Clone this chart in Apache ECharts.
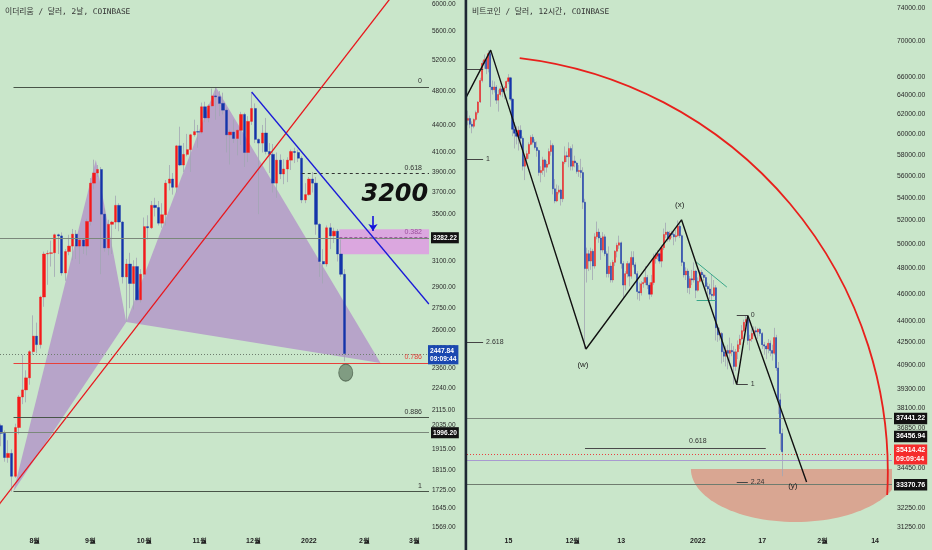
<!DOCTYPE html>
<html><head><meta charset="utf-8">
<script src="https://cdn.jsdelivr.net/npm/echarts@6.0.0/dist/echarts.min.js"></script>
<style>html,body{margin:0;padding:0;background:#c9e6ca}#c{width:932px;height:550px}</style>
</head><body><div id="c"></div>
<script>
// ================= DATA =================
// ---- left: ETH / USD, 2-day bars (open, close, low, high)
const ethTitle = '이더리움 / 달러, 2날, COINBASE';
const ethStart = '2021-07-13';
const ethStepHours = 48;
const ethOHLC = [
[2035,1995,1930,2045],[1995,1875,1855,2010],[1875,1895,1850,1960],[1895,1787,1718,1915],[1787,2025,1780,2045],
[2025,2190,1990,2200],[2190,2230,2150,2440],[2230,2300,2160,2345],[2300,2460,2260,2470],[2460,2560,2440,2700],
[2560,2505,2450,2650],[2505,2830,2480,2840],[2830,3160,2760,3180],[3160,3165,2920,3190],[3165,3170,3060,3270],
[3170,3320,2980,3330],[3320,3310,3160,3330],[3310,3010,2990,3340],[3010,3180,2950,3200],[3180,3225,3150,3320],
[3225,3325,3110,3370],[3325,3225,3120,3360],[3225,3275,3080,3290],[3275,3225,3160,3290],[3225,3435,3150,3460],
[3435,3790,3400,3840],[3790,3890,3730,4025],[3890,3925,3850,3970],[3925,3500,3000,3950],[3500,3210,3180,3550],
[3210,3410,3150,3450],[3410,3430,3160,3440],[3430,3580,3370,3670],[3580,3430,3350,3600],[3430,2980,2930,3440],
[2980,3080,2655,3120],[3080,2930,2750,3170],[2930,3060,2740,3110],[3060,2810,2800,3130],[2810,3000,2790,3040],
[3000,3390,2980,3470],[3390,3380,3280,3490],[3380,3580,3370,3620],[3580,3560,3480,3650],[3560,3420,3400,3620],
[3420,3495,3380,3600],[3495,3790,3400,3820],[3790,3830,3720,3970],[3830,3750,3680,3890],[3750,4170,3700,4180],
[4170,3970,3960,4380],[3970,4080,3900,4200],[4080,4130,4060,4300],[4130,4290,3900,4300],[4290,4325,4270,4460],
[4325,4320,4150,4400],[4320,4610,4300,4660],[4610,4480,4430,4670],[4480,4620,4430,4640],[4620,4740,4610,4830],
[4740,4730,4460,4850],[4730,4650,4500,4800],[4650,4570,4520,4780],[4570,4290,4100,4600],[4290,4320,3975,4350],
[4320,4250,4200,4460],[4250,4340,4070,4350],[4340,4520,4180,4550],[4520,4100,3950,4540],[4100,4440,4000,4500],
[4440,4590,4400,4780],[4590,4240,4200,4650],[4240,4200,3500,4250],[4200,4310,4100,4400],[4310,4110,4080,4480],
[4110,4080,3890,4200],[4080,3790,3700,4190],[3790,4020,3650,4100],[4020,3880,3830,4080],[3880,3930,3780,4030],
[3930,4020,3800,4050],[4020,4110,3920,4130],[4110,4100,3990,4150],[4100,4040,4000,4130],[4040,3630,3600,4060],
[3630,3680,3600,3790],[3680,3830,3670,3850],[3830,3790,3700,3900],[3790,3410,3320,3850],[3410,3100,2980,3420],
[3100,3080,2930,3200],[3080,3380,3060,3400],[3380,3310,3200,3420],[3310,3350,3250,3380],[3350,3160,3100,3370],
[3160,3000,2980,3280],[3000,2447.84,2400,3040]
];
const ethPriceTicks = [6000,5600,5200,4800,4400,4100,3900,3700,3500,3300,3100,2900,2750,2600,2480,2360,2240,2115,2035,1915,1815,1725,1645,1569];
const ethDateTicks = ['2021-08-01','2021-09-01','2021-10-01','2021-11-01','2021-12-01','2022-01-01','2022-02-01','2022-03-01'];
const ethDateLabels = ['8월','9월','10월','11월','12월','2022','2월','3월'];
const ethXRange = ['2021-07-12T11:00:00Z','2022-03-09T02:00:00Z'];
const ethYRange = [1549, 6062];
const ethFibStart = '2021-07-20';
const ethFibLevels = [['0',4850],['0.786',2390],['0.886',2077],['1',1720]];
const ethFib618 = ['2021-12-28', 3884];
const ethBox382 = ['2022-01-18', 3368, 3159, 3300];
const ethPattern = [
  [['2021-07-20',1720],['2021-09-04',4025],['2021-09-21',2655]],
  [['2021-09-21',2655],['2021-11-10',4850],['2022-02-10',2390]]
];
const ethRedTrend = [['2021-07-01',1558],['2022-02-25',6442]];
const ethBlueTrend = [['2021-11-30',4788],['2022-03-09',2780]];
const ethPriceLines = [3282.22, 1996.20];
const ethLast = [2447.84, '09:09:44'];
const ethCircle = ['2022-01-21T14:00:00Z', 2331];
const ethNote = ['2022-02-18', 3676, '3200'];
const ethArrow = [['2022-02-05T19:00:00Z', 3484], ['2022-02-05T19:00:00Z', 3352]];

// ---- right: BTC / USD, 12-hour bars, thousand USD (open, close, low, high)
const btcTitle = '비트코인 / 달러, 12시간, COINBASE';
const btcStart = '2021-11-05';
const btcStepHours = 12;
const btcOHLCk = [
[61.4,61.6,60.9,62.4],[61.6,61.0,60.6,61.9],[61.0,60.8,60.1,61.3],[60.8,61.5,60.6,61.6],[61.5,62.2,61.3,62.4],[62.2,63.3,62.0,63.4],
[63.3,65.6,63.2,65.9],[65.6,67.5,65.4,67.8],[67.5,67.9,66.9,68.5],[67.9,66.9,66.3,68.2],[66.9,68.6,66.5,69.0],[68.6,64.9,62.8,68.9],
[64.9,64.6,64.1,65.6],[64.6,64.9,64.3,65.5],[64.9,63.5,63.1,65.1],[63.5,64.1,62.3,64.6],[64.1,64.7,63.9,65.0],[64.7,64.4,63.8,64.9],
[64.4,64.8,63.6,65.0],[64.8,65.5,64.5,65.6],[65.5,65.9,65.2,66.3],[65.9,63.6,63.4,66.0],[63.6,60.5,59.8,63.7],[60.5,60.1,58.6,61.2],
[60.1,59.8,59.0,60.8],[59.8,60.4,58.4,60.8],[60.4,59.6,59.3,60.9],[59.6,56.9,56.5,59.8],[56.9,57.6,55.6,57.9],[57.6,58.1,57.0,58.4],
[58.1,59.0,57.6,59.2],[59.0,59.7,58.9,59.9],[59.7,59.2,59.0,60.0],[59.2,58.7,58.5,59.5],[58.7,58.4,57.8,59.3],[58.4,56.3,56.0,58.5],
[56.3,56.5,55.4,56.9],[56.5,57.5,56.1,57.8],[57.5,56.8,55.9,57.6],[56.8,57.1,56.3,57.4],[57.1,58.3,57.0,58.6],[58.3,58.9,57.9,59.4],
[58.9,54.8,54.3,59.1],[54.8,53.7,53.5,55.7],[53.7,54.5,53.6,55.2],[54.5,54.7,54.3,55.1],[54.7,53.9,53.3,54.8],[53.9,57.3,53.6,57.4],
[57.3,57.9,57.1,58.8],[57.9,57.8,57.3,58.3],[57.8,58.6,56.8,59.2],[58.6,56.9,56.5,58.8],[56.9,57.4,56.5,59.0],[57.4,57.2,56.8,57.9],
[57.2,56.4,56.2,57.3],[56.4,56.5,55.9,57.0],[56.5,56.3,55.8,57.6],[56.3,53.6,53.0,56.8],[53.6,48.0,42.0,53.9],[48.0,49.2,46.9,49.7],
[49.2,48.6,47.8,49.5],[48.6,49.4,47.9,49.7],[49.4,48.2,47.1,49.6],[48.2,50.6,48.0,50.9],[50.6,51.0,50.4,51.9],[51.0,50.5,50.1,51.3],
[50.5,49.5,48.7,50.7],[49.5,50.6,49.3,51.0],[50.6,49.2,49.0,50.8],[49.2,47.6,47.3,49.4],[47.6,48.2,47.3,49.8],[48.2,47.1,46.9,48.5],
[47.1,48.5,46.9,48.7],[48.5,49.4,48.2,49.5],[49.4,49.9,48.9,50.1],[49.9,50.1,49.6,50.7],[50.1,48.4,48.0,50.2],[48.4,46.7,45.7,48.6],
[46.7,47.6,46.3,47.8],[47.6,48.4,47.3,48.6],[48.4,47.4,46.6,48.5],[47.4,48.9,47.2,49.4],[48.9,48.3,48.1,49.4],[48.3,47.6,47.5,48.5],
[47.6,46.2,45.6,47.8],[46.2,46.1,45.5,46.9],[46.1,46.8,45.9,47.0],[46.8,46.9,46.5,47.3],[46.9,47.3,46.7,48.2],[47.3,46.7,46.4,47.5],
[46.7,46.0,45.6,46.9],[46.0,46.9,45.8,47.5],[46.9,48.8,46.7,49.2],[48.8,49.0,48.4,49.3],[49.0,49.2,48.7,49.5],[49.2,48.6,48.4,49.3],
[48.6,49.7,48.1,49.9],[49.7,50.8,49.5,51.3],[50.8,51.0,50.5,51.8],[51.0,50.4,50.2,51.1],[50.4,50.9,50.2,51.1],[50.9,50.8,50.5,51.1],
[50.8,50.6,49.9,51.0],[50.6,50.7,50.2,51.2],[50.7,51.5,50.6,52.0],[51.5,50.7,50.5,51.7],[50.7,48.5,48.2,50.8],[48.5,47.5,47.3,48.6],
[47.5,47.8,47.1,48.1],[47.8,46.5,46.1,48.0],[46.5,47.2,46.0,47.4],[47.2,47.1,46.7,47.9],[47.1,47.8,46.9,48.5],[47.8,46.3,45.7,47.9],
[46.3,47.0,46.2,47.3],[47.0,47.7,46.9,47.9],[47.7,47.5,47.0,47.9],[47.5,47.3,47.0,47.6],[47.3,46.6,46.2,47.5],[46.6,46.4,45.7,46.9],
[46.4,46.0,45.6,46.8],[46.0,45.9,45.5,47.5],[45.9,46.5,45.8,47.1],[46.5,43.5,42.6,46.7],[43.5,43.0,42.5,43.8],[43.0,43.1,42.6,43.5],
[43.1,41.8,41.0,43.2],[41.8,41.5,41.1,42.3],[41.5,41.9,40.8,42.2],[41.9,41.7,40.6,42.3],[41.7,41.9,41.2,42.8],[41.9,41.8,41.5,42.4],
[41.8,40.8,39.6,42.2],[40.8,41.8,40.5,42.0],[41.8,42.3,41.3,42.6],[42.3,42.7,42.0,43.0],[42.7,43.3,42.6,43.7],[43.3,43.9,43.2,44.1],
[43.9,44.1,43.6,44.4],[44.1,42.6,42.3,44.2],[42.6,42.7,41.9,43.0],[42.7,43.1,42.5,43.4],[43.1,43.3,42.9,43.6],[43.3,43.2,42.8,43.6],
[43.2,43.4,42.7,43.5],[43.4,43.1,42.9,43.5],[43.1,42.3,42.0,43.2],[42.3,42.2,41.6,42.5],[42.2,42.0,41.3,42.3],[42.0,42.4,41.7,42.7],
[42.4,41.9,41.5,42.6],[41.9,41.7,41.2,42.3],[41.7,42.8,41.6,43.5],[42.8,40.7,40.5,43.0],[40.7,38.6,37.7,41.1],[38.6,36.5,35.5,39.0],
[36.5,35.41442,34.0,36.8]
];
const btcPriceTicks = [74000,70000,66000,64000,62000,60000,58000,56000,54000,52000,50000,48000,46000,44000,42500,40900,39300,38100,36850,35650,34450,33350,32250,31250];
const btcDateTicks = ['2021-11-15','2021-12-01','2021-12-13','2022-01-01','2022-01-17','2022-02-01','2022-02-14'];
const btcDateLabels = ['15','12월','13','2022','17','2월','14'];
const btcXRange = ['2021-11-04T17:00:00Z','2022-02-18T05:00:00Z'];
const btcYRange = [30990, 74990];
const btcWave = [['2021-11-04T10:00:00Z',63730],['2021-11-10T14:00:00Z',69000],['2021-12-04T06:00:00Z',42000],
  ['2021-12-27T23:00:00Z',52050],['2022-01-10T16:00:00Z',39600],['2022-01-13T10:00:00Z',44400],['2022-01-28T00:00:00Z',33670]];
const btcWaveLabels = [['2021-12-03T12:00:00Z',40890,'(w)'],['2021-12-27T12:00:00Z',53350,'(x)'],['2022-01-24T14:00:00Z',33450,'(y)']];
const btcFibA = { end: '2021-11-08T17:00:00Z', levels: [['',66870],['1',57590],['2.618',42490]] };
const btcFibB = { start: '2022-01-10T16:00:00Z', end: '2022-01-13T10:00:00Z', levels: [['0',44400],['1',39600],['2.24',33648]] };
const btcFib618 = ['2021-12-04T00:00:00Z','2022-01-17T21:00:00Z',35630,'2022-01-01T00:00:00Z',36050];
const btcTeal = [[['2021-12-31T07:00:00Z',48610],['2022-01-08T05:00:00Z',46550]],[['2021-12-31T17:00:00Z',45560],['2022-01-05T12:00:00Z',45560]]];
const btcPriceBoxes = [37441.22, 36456.94, 33370.76];
const btcLast = [35414.42, '09:09:44'];
const btcLavender = 34820;
const btcArc = { center: ['2021-11-05T17:00:00Z',34240], start: ['2021-11-17T19:00:00Z',68100], end: ['2022-02-17T02:00:00Z',32950] };
const btcBowl = { center: ['2022-01-25T07:00:00Z',34410], left: '2021-12-30T07:00:00Z', bottom: 31510 };

// ================= HELPERS =================
const L = Math.log;
const T = s => Date.parse(s.length === 10 ? s + 'T00:00:00Z' : s);
const HOUR = 3600000;
const FONT = "'Liberation Sans', Arial, sans-serif";
const fmtPrice = v => Math.exp(v).toFixed(2);

function candles(rows, start, stepH, scale) {
  const t0 = T(start);
  const body = [], wick = [];
  rows.forEach((r, i) => {
    const t = t0 + i * stepH * HOUR;
    const o = r[0] * scale, c = r[1] * scale, lo = r[2] * scale, hi = r[3] * scale;
    body.push([t, L(o), L(c), L(Math.min(o, c)), L(Math.max(o, c))]);
    wick.push([t, L(o), L(c), L(lo), L(hi)]);
  });
  return { body, wick };
}
const eth = candles(ethOHLC, ethStart, ethStepHours, 1);
const btc = candles(btcOHLCk, btcStart, btcStepHours, 1000);

const UP = '#f41a1a', DOWN = '#1434aa', WICK = '#a2a6b4';

function boxLabel(text, bg, fs) {
  return { show: true, position: 'end', distance: 2, formatter: text, color: '#fff', backgroundColor: bg,
    padding: [2, 2, 1, 2], fontSize: fs, lineHeight: fs + 1.5, fontFamily: FONT, fontWeight: 'bold' };
}
function fibLabel(text, color, dx) {
  return { show: true, position: 'insideEndTop', distance: [dx, 2], formatter: text, color, fontSize: 7, fontFamily: FONT };
}

// ---- ETH mark lines
const ethXMaxT = T(ethXRange[1]);
const ethMarks = [];
ethFibLevels.forEach(([r, p]) => {
  const red = r === '0.786';
  ethMarks.push([{ coord: [T(ethFibStart), L(p)], lineStyle: { color: red ? '#e8403a' : '#485448', width: 1, type: 'solid' },
    label: fibLabel(r, red ? '#e8403a' : '#333', 7) },
    { coord: [ethXMaxT, L(p)] }]);
});
ethMarks.push([{ coord: [T(ethFib618[0]), L(ethFib618[1])], lineStyle: { color: '#333', width: 1, type: [3, 3] },
  label: fibLabel('0.618', '#333', 7) }, { coord: [ethXMaxT, L(ethFib618[1])] }]);
ethMarks.push([{ coord: [T(ethBox382[0]), L(ethBox382[3])], lineStyle: { color: '#a058a0', width: 1, type: [3, 2] },
  label: fibLabel('0.382', '#9a4f9a', 7) }, { coord: [ethXMaxT, L(ethBox382[3])] }]);
ethPriceLines.forEach(p => {
  ethMarks.push({ yAxis: L(p), lineStyle: { color: '#7b887b', width: 1, type: 'solid' }, label: boxLabel(p.toFixed(2), '#121212', 6.6) });
});
ethMarks.push({ yAxis: L(ethLast[0]), lineStyle: { color: '#6e7d6e', width: 1, type: [1, 2] },
  label: Object.assign(boxLabel(ethLast[0].toFixed(2) + '\n' + ethLast[1], '#1a48b0', 6.6), { distance: -1 }) });
ethMarks.push([{ coord: [T(ethArrow[0][0]), L(ethArrow[0][1])], symbol: 'none', lineStyle: { color: '#1414dc', width: 1.6, type: 'solid' }, label: { show: false } },
  { coord: [T(ethArrow[1][0]), L(ethArrow[1][1])], symbol: 'arrow', symbolSize: [7, 7] }]);

// ---- BTC mark lines
const btcXMinT = T(btcXRange[0]);
const btcMarks = [];
btcFibA.levels.forEach(([r, p]) => {
  btcMarks.push([{ coord: [btcXMinT, L(p)], lineStyle: { color: '#444', width: 1, type: 'solid' },
    label: { show: r !== '', position: 'end', distance: 3, formatter: r, color: '#333', fontSize: 7, fontFamily: FONT } },
    { coord: [T(btcFibA.end), L(p)] }]);
});
btcFibB.levels.forEach(([r, p]) => {
  btcMarks.push([{ coord: [T(btcFibB.start), L(p)], lineStyle: { color: '#444', width: 1, type: 'solid' },
    label: { show: true, position: 'end', distance: 3, formatter: r, color: '#333', fontSize: 7, fontFamily: FONT } },
    { coord: [T(btcFibB.end), L(p)] }]);
});
btcMarks.push([{ coord: [T(btcFib618[0]), L(btcFib618[2])], lineStyle: { color: '#4a4a4a', width: 1, type: 'solid' }, label: { show: false } },
  { coord: [T(btcFib618[1]), L(btcFib618[2])] }]);
btcTeal.forEach(seg => {
  btcMarks.push([{ coord: [T(seg[0][0]), L(seg[0][1])], lineStyle: { color: '#38a68a', width: 1, type: 'solid' }, label: { show: false } },
    { coord: [T(seg[1][0]), L(seg[1][1])] }]);
});
btcMarks.push({ yAxis: L(btcPriceBoxes[0]), lineStyle: { color: '#7b887b', width: 1, type: 'solid' }, label: boxLabel(btcPriceBoxes[0].toFixed(2), '#121212', 7) });
btcMarks.push({ yAxis: L(btcPriceBoxes[1]), lineStyle: { color: 'rgba(0,0,0,0)', width: 0 }, label: boxLabel(btcPriceBoxes[1].toFixed(2), '#121212', 7) });
btcMarks.push({ yAxis: L(btcLavender), lineStyle: { color: '#a89ad0', width: 1, type: 'solid' }, label: { show: false } });
btcMarks.push({ yAxis: L(btcPriceBoxes[2]), lineStyle: { color: '#6f7c6f', width: 1, type: 'solid' }, label: boxLabel(btcPriceBoxes[2].toFixed(2), '#121212', 7) });
btcMarks.push({ yAxis: L(btcLast[0]), lineStyle: { color: '#e84040', width: 1, type: [1, 2] },
  label: boxLabel(btcLast[0].toFixed(2) + '\n' + btcLast[1], '#f52c2c', 7) });

// ---- series builders
function candleSeries(idx, d, bw, marks, markArea) {
  return [
    { type: 'candlestick', xAxisIndex: idx, yAxisIndex: idx, data: d.wick, encode: { x: 0, y: [1, 2, 3, 4] },
      barWidth: 0.1, silent: true, z: 2,
      itemStyle: { color: WICK, color0: WICK, borderColor: WICK, borderColor0: WICK, borderWidth: 0.8 } },
    { type: 'candlestick', xAxisIndex: idx, yAxisIndex: idx, data: d.body, encode: { x: 0, y: [1, 2, 3, 4] },
      barWidth: bw, silent: true, z: 3,
      itemStyle: { color: UP, color0: DOWN, borderColor: UP, borderColor0: DOWN, borderWidth: 0.4 },
      markLine: { silent: true, symbol: ['none', 'none'], animation: false, data: marks },
      markArea: markArea || undefined }
  ];
}
function lineSeries(idx, pts, color, width, z) {
  return { type: 'line', xAxisIndex: idx, yAxisIndex: idx, data: pts.map(p => [T(p[0]), L(p[1])]), symbol: 'none',
    showSymbol: false, silent: true, lineStyle: { color, width }, z: z || 5, clip: true };
}
function textSeries(idx, items, font, color) {
  return { type: 'custom', xAxisIndex: idx, yAxisIndex: idx, silent: true, z: 12, clip: false,
    data: items.map(it => [T(it[0]), L(it[1])]),
    renderItem: (params, api) => {
      const it = items[params.dataIndex];
      const p = api.coord([api.value(0), api.value(1)]);
      return { type: 'text', x: p[0], y: p[1], style: { text: it[2], fill: color, font, align: 'center', verticalAlign: 'middle' } };
    } };
}

const series = [];
// ETH pattern fill
series.push({ type: 'custom', xAxisIndex: 0, yAxisIndex: 0, silent: true, clip: true, z: 1,
  data: ethPattern.map(poly => [T(poly[0][0]), L(poly[0][1])]),
  renderItem: (params, api) => ({ type: 'polygon',
    shape: { points: ethPattern[params.dataIndex].map(q => api.coord([T(q[0]), L(q[1])])) },
    style: { fill: '#b7a4c9' } }) });
series.push(...candleSeries(0, eth, 2.8, ethMarks, {
  silent: true, data: [[{ coord: [T(ethBox382[0]), L(ethBox382[1])], itemStyle: { color: '#dba7df' } }, { coord: [ethXMaxT, L(ethBox382[2])] }]] }));
series.push(lineSeries(0, ethRedTrend, '#e8161c', 1.3));
series.push(lineSeries(0, ethBlueTrend, '#1a1ad8', 1.3));
series.push({ type: 'scatter', xAxisIndex: 0, yAxisIndex: 0, silent: true, z: 8, data: [[T(ethCircle[0]), L(ethCircle[1])]],
  symbol: 'circle', symbolSize: [14, 17], itemStyle: { color: '#6e8a6f', borderColor: '#4d624e', borderWidth: 1 } });
series.push(textSeries(0, [ethNote], "italic bold 24px 'DejaVu Sans', sans-serif", '#111'));

// BTC
series.push({ type: 'custom', xAxisIndex: 1, yAxisIndex: 1, silent: true, clip: true, z: 1,
  data: [[T(btcBowl.center[0]), L(btcBowl.center[1])]],
  renderItem: (params, api) => {
    const c = api.coord([T(btcBowl.center[0]), L(btcBowl.center[1])]);
    const rx = c[0] - api.coord([T(btcBowl.left), L(btcBowl.center[1])])[0];
    const ry = api.coord([T(btcBowl.center[0]), L(btcBowl.bottom)])[1] - c[1];
    const pts = [];
    for (let k = 0; k <= 60; k++) { const th = Math.PI * k / 60; pts.push([c[0] + rx * Math.cos(th), c[1] + ry * Math.sin(th)]); }
    return { type: 'polygon', shape: { points: pts }, style: { fill: '#d9a692' } };
  } });
series.push(...candleSeries(1, btc, 1.6, btcMarks));
series.push(lineSeries(1, btcWave, '#111', 1.4, 6));
series.push({ type: 'custom', xAxisIndex: 1, yAxisIndex: 1, silent: true, clip: true, z: 6,
  data: [[T(btcArc.center[0]), L(btcArc.center[1])]],
  renderItem: (params, api) => {
    const c = api.coord([T(btcArc.center[0]), L(btcArc.center[1])]);
    const a = api.coord([T(btcArc.start[0]), L(btcArc.start[1])]);
    const b = api.coord([T(btcArc.end[0]), L(btcArc.end[1])]);
    const r = Math.hypot(a[0] - c[0], a[1] - c[1]);
    return { type: 'arc', shape: { cx: c[0], cy: c[1], r, startAngle: Math.atan2(a[1] - c[1], a[0] - c[0]),
      endAngle: Math.atan2(b[1] - c[1], b[0] - c[0]), clockwise: true },
      style: { stroke: '#e8201c', fill: 'none', lineWidth: 1.8 } };
  } });
series.push(textSeries(1, btcWaveLabels, "8px 'Liberation Sans', Arial, sans-serif", '#222'));
series.push(textSeries(1, [[btcFib618[3], btcFib618[4], '0.618']], "7px 'Liberation Sans', Arial, sans-serif", '#333'));

function xAxis(idx, range, ticks, labels) {
  const map = new Map(ticks.map((t, i) => [T(t), labels[i]]));
  return { type: 'value', gridIndex: idx, min: T(range[0]), max: T(range[1]),
    axisLine: { show: false }, axisTick: { show: false }, splitLine: { show: false },
    axisLabel: { customValues: ticks.map(T), formatter: v => map.get(v) || '', fontSize: 7, color: '#222',
      margin: 6, fontFamily: FONT, fontWeight: 'bold' } };
}
function yAxis(idx, range, ticks, fs, margin) {
  return { type: 'value', gridIndex: idx, position: 'right', min: L(range[0]), max: L(range[1]),
    axisLine: { show: false }, axisTick: { show: false }, splitLine: { show: false },
    axisLabel: { customValues: ticks.map(L), formatter: fmtPrice, fontSize: fs, color: '#2a2a2a', margin, fontFamily: FONT } };
}

const titleStyle = { fontSize: 7.8, fontWeight: 'normal', color: '#333', fontFamily: "'DejaVu Sans Mono','Noto Sans CJK KR',monospace" };
const chart = echarts.init(document.getElementById('c'), null, { renderer: 'canvas' });
chart.setOption({
  animation: false,
  backgroundColor: '#c9e6ca',
  textStyle: { fontFamily: FONT },
  title: [
    { text: ethTitle, left: 5, top: 8, padding: 0, textStyle: titleStyle },
    { text: btcTitle, left: 472, top: 8, padding: 0, textStyle: titleStyle }
  ],
  grid: [
    { left: 0, top: 0, width: 429, height: 532 },
    { left: 467, top: 0, width: 425, height: 532 }
  ],
  xAxis: [xAxis(0, ethXRange, ethDateTicks, ethDateLabels), xAxis(1, btcXRange, btcDateTicks, btcDateLabels)],
  yAxis: [yAxis(0, ethYRange, ethPriceTicks, 6.5, 3), yAxis(1, btcYRange, btcPriceTicks, 6.8, 5)],
  graphic: [{ type: 'rect', shape: { x: 464.6, y: 0, width: 2.6, height: 550 }, style: { fill: '#1d2733' }, z: 100 }],
  series
});
</script></body></html>
